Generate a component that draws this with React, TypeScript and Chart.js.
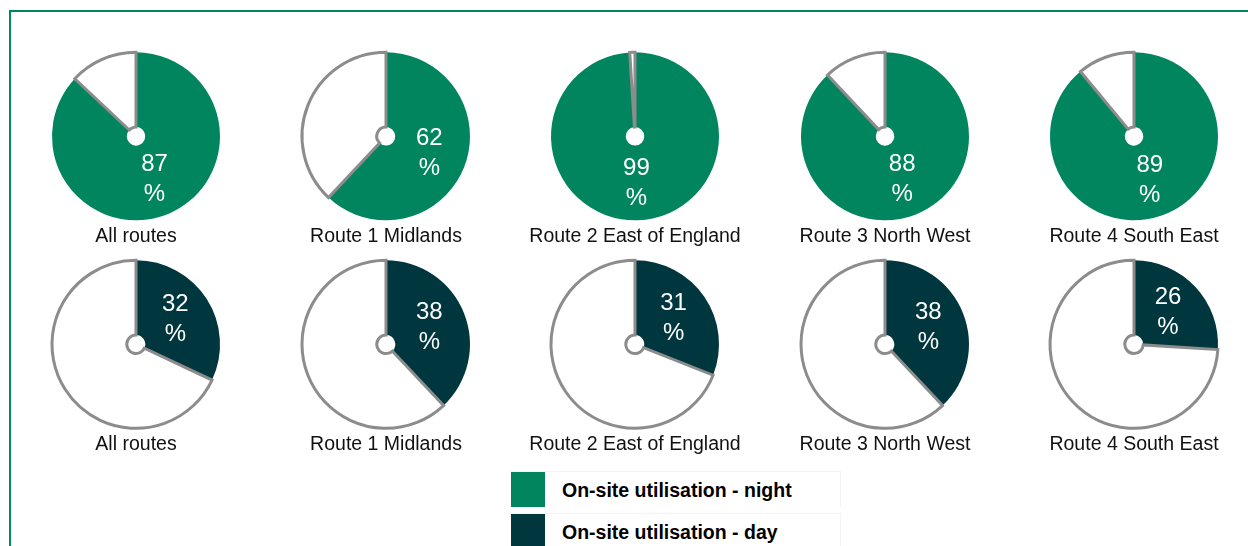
import React, { useEffect, useRef } from "react";
import { Chart, registerables } from "chart.js";

Chart.register(...registerables);

const routes = [
  "All routes",
  "Route 1 Midlands",
  "Route 2 East of England",
  "Route 3 North West",
  "Route 4 South East",
];
const nightValues = [87, 62, 99, 88, 89];
const dayValues = [32, 38, 31, 38, 26];
const legendLabels = ["On-site utilisation - night", "On-site utilisation - day"];

const GREEN = "#00855F";
const DARK = "#00363D";
const GRAY = "#8C8C8C";
const FONT = "'Liberation Sans', Arial, sans-serif";

const valueLabelPlugin = {
  id: "valueLabel",
  afterDatasetsDraw(chart: any) {
    const meta = chart.getDatasetMeta(0);
    const arc = meta.data[0];
    if (!arc) return;
    const v = chart.data.datasets[0].data[0];
    const p = arc.tooltipPosition();
    const ctx = chart.ctx;
    ctx.save();
    ctx.fillStyle = "#ffffff";
    ctx.font = `24px ${FONT}`;
    ctx.textAlign = "center";
    ctx.textBaseline = "middle";
    ctx.fillText(String(v), p.x, p.y - 15);
    ctx.fillText("%", p.x, p.y + 15);
    ctx.restore();
  },
};

function Pie({ value, color, title }: { value: number; color: string; title: string }) {
  const ref = useRef<HTMLCanvasElement | null>(null);
  useEffect(() => {
    if (!ref.current) return;
    const chart = new Chart(ref.current, {
      type: "doughnut",
      data: {
        labels: ["utilised", "not utilised"],
        datasets: [
          {
            data: [value, 100 - value],
            backgroundColor: [color, "#ffffff"],
            borderColor: [color, GRAY],
            borderWidth: [0, 3],
            borderJoinStyle: "miter",
            hoverOffset: 0,
          } as any,
        ],
      },
      options: {
        responsive: false,
        animation: false,
        radius: 84,
        cutout: "11%",
        layout: { padding: 0 },
        plugins: {
          legend: { display: false },
          tooltip: { enabled: false },
          title: {
            display: true,
            text: title,
            position: "bottom",
            color: "#111111",
            font: { family: FONT, size: 19.5, weight: "normal", lineHeight: 1.2 },
            padding: { top: 2, bottom: 4 },
          },
        },
      } as any,
      plugins: [valueLabelPlugin],
    });
    return () => chart.destroy();
  }, [value, color, title]);
  return <canvas ref={ref} width={248} height={202} />;
}

export default function App() {
  const rowCenters = [136, 344];
  const colCenter = (i: number) => 136 + i * 249.5;
  return (
    <div
      style={{
        position: "fixed",
        left: 0,
        top: 0,
        width: 1248,
        height: 546,
        overflow: "hidden",
        background: "#ffffff",
      }}
    >
      <div
        style={{
          position: "absolute",
          left: 9,
          top: 10,
          width: 1260,
          height: 560,
          border: "2px solid #00875F",
        }}
      />
      {[nightValues, dayValues].map((vals, r) =>
        vals.map((v, i) => (
          <div
            key={`${r}-${i}`}
            style={{
              position: "absolute",
              left: colCenter(i) - 124,
              top: rowCenters[r] - 86,
              width: 248,
              height: 202,
            }}
          >
            <Pie value={v} color={r === 0 ? GREEN : DARK} title={routes[i]} />
          </div>
        ))
      )}
      {legendLabels.map((lab, k) => (
        <div
          key={lab}
          style={{
            position: "absolute",
            left: 511,
            top: 471 + k * 42,
            width: 330,
            height: 36,
            borderTop: "1px solid #f3f3f3",
            borderRight: "1px solid #f3f3f3",
            boxSizing: "border-box",
          }}
        >
          <div
            style={{
              position: "absolute",
              left: 0,
              top: 0,
              width: 34,
              height: 35,
              background: k === 0 ? GREEN : DARK,
            }}
          />
          <div
            style={{
              position: "absolute",
              left: 51,
              top: 0,
              height: 36,
              lineHeight: "36px",
              fontFamily: FONT,
              fontWeight: "bold",
              fontSize: 19.5,
              color: "#000000",
              whiteSpace: "nowrap",
            }}
          >
            {lab}
          </div>
        </div>
      ))}
    </div>
  );
}
